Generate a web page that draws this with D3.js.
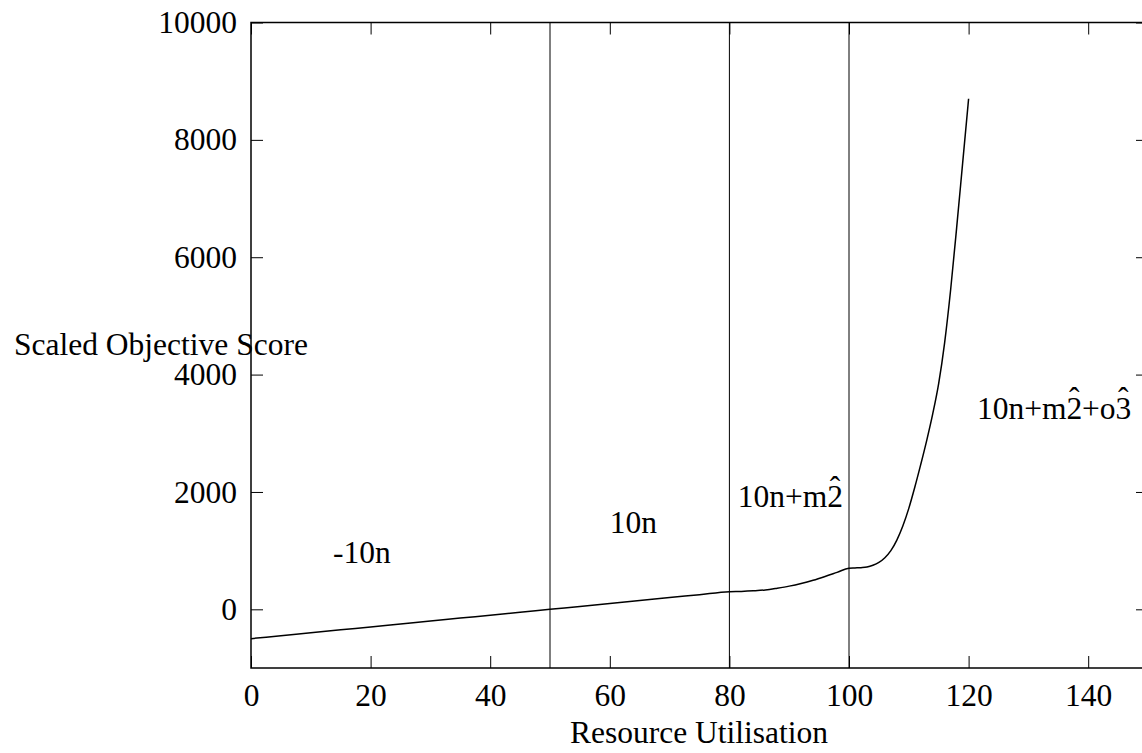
<!DOCTYPE html>
<html>
<head>
<meta charset="utf-8">
<script src="https://cdn.jsdelivr.net/npm/d3@7"></script>
<style>
  html, body { margin: 0; padding: 0; background: #fff; }
  svg { display: block; }
  text { font-family: "Liberation Serif", "Times New Roman", serif; fill: #000; }
</style>
</head>
<body>
<svg id="chart" width="1142" height="753"></svg>
<script>
// ---- data ----
const xTicks = [0, 20, 40, 60, 80, 100, 120, 140];
const yTicks = [0, 2000, 4000, 6000, 8000, 10000];
const utilisation = [0, 5, 10, 15, 20, 25, 30, 35, 40, 45, 50, 55, 60, 65, 70, 75, 80, 82, 84, 86, 88, 90, 92, 94, 96, 98, 100, 101, 102, 103, 104, 105, 106, 107, 108, 109, 110, 111, 112, 113, 114, 115, 116, 117, 118, 119, 120];
const score = [-500, -450, -400, -350, -300, -250, -200, -150, -100, -50, 0, 50, 100, 150, 200, 250, 300, 305, 315, 330, 360, 395, 440, 495, 560, 630, 700, 705, 710, 720, 750, 800, 880, 1000, 1180, 1420, 1720, 2080, 2470, 2880, 3330, 3850, 4550, 5450, 6500, 7600, 8700];
const boundaries = [50, 80, 100];
// each region label: [plain text, hatted digit, plain text, hatted digit]
const regionLabels = [
  ["-10n"],
  ["10n"],
  ["10n+m", "2"],
  ["10n+m", "2", "+o", "3"]
];
const regionLabelPos = [[13.7, 790], [60, 1300], [81.4, 1740], [121.4, 3250]];
const xLabel = "Resource Utilisation";
const yLabel = "Scaled Objective Score";

// ---- layout ----
const svg = d3.select("#chart");
const L = 251, R = 1148, T = 22.5, B = 668;
const x = d3.scaleLinear().domain([0, 150]).range([L, R]);
const y = d3.scaleLinear().domain([-1000, 10000]).range([B, T]);
const fs = 31.5;
const fam = '"Liberation Serif", "Times New Roman", serif';

// axes
const gx = svg.append("g").attr("transform", `translate(0,${B})`)
  .call(d3.axisBottom(x).tickValues(xTicks).tickSize(-12).tickPadding(16).tickFormat(d3.format("d")));
const gy = svg.append("g").attr("transform", `translate(${L},0)`)
  .call(d3.axisLeft(y).tickValues(yTicks).tickSize(-12).tickPadding(14).tickFormat(d3.format("d")));
const gxt = svg.append("g").attr("transform", `translate(0,${T})`)
  .call(d3.axisTop(x).tickValues(xTicks).tickSize(-12).tickFormat(""));
const gyr = svg.append("g").attr("transform", `translate(${R},0)`)
  .call(d3.axisRight(y).tickValues(yTicks).tickSize(-12).tickFormat(""));
[gx, gy, gxt, gyr].forEach(g => {
  g.select(".domain").remove();
  g.selectAll("line").attr("stroke", "#000").attr("stroke-width", 1);
  g.selectAll("text").style("font-size", fs + "px").style("font-family", fam).attr("fill", "#000");
});

// border
svg.append("rect").attr("x", L).attr("y", T).attr("width", R - L).attr("height", B - T)
  .attr("fill", "none").attr("stroke", "#000").attr("stroke-width", 1.5);

// boundaries
svg.selectAll("line.bd").data(boundaries).enter().append("line")
  .attr("x1", d => x(d)).attr("x2", d => x(d)).attr("y1", T).attr("y2", B)
  .attr("stroke", "#000").attr("stroke-width", 1);

// curve
const pts = utilisation.map((u, i) => [u, score[i]]);
svg.append("path").datum(pts)
  .attr("fill", "none").attr("stroke", "#000").attr("stroke-width", 1.5)
  .attr("d", d3.line().x(d => x(d[0])).y(d => y(d[1])).curve(d3.curveMonotoneX));

// region labels (digits with a circumflex drawn above)
regionLabels.forEach((parts, i) => {
  const t = svg.append("text")
    .attr("x", x(regionLabelPos[i][0]))
    .attr("y", y(regionLabelPos[i][1]))
    .style("font-size", fs + "px").style("font-family", fam);
  parts.forEach((p, j) => {
    if (j % 2 === 0) {
      t.append("tspan").attr("dx", j === 0 ? 0 : "0.08em").attr("dy", j === 0 ? 0 : "0.30em").text(p);
    } else {
      t.append("tspan").text(p);
      t.append("tspan").attr("dx", "-0.42em").attr("dy", "-0.30em").text("\u02C6");
    }
  });
});

// axis titles
svg.append("text").attr("x", 699).attr("y", 743).attr("text-anchor", "middle")
  .style("font-size", fs + "px").style("font-family", fam).text(xLabel);
svg.append("text").attr("x", 14).attr("y", 355)
  .style("font-size", fs + "px").style("font-family", fam).text(yLabel);
</script>
</body>
</html>
